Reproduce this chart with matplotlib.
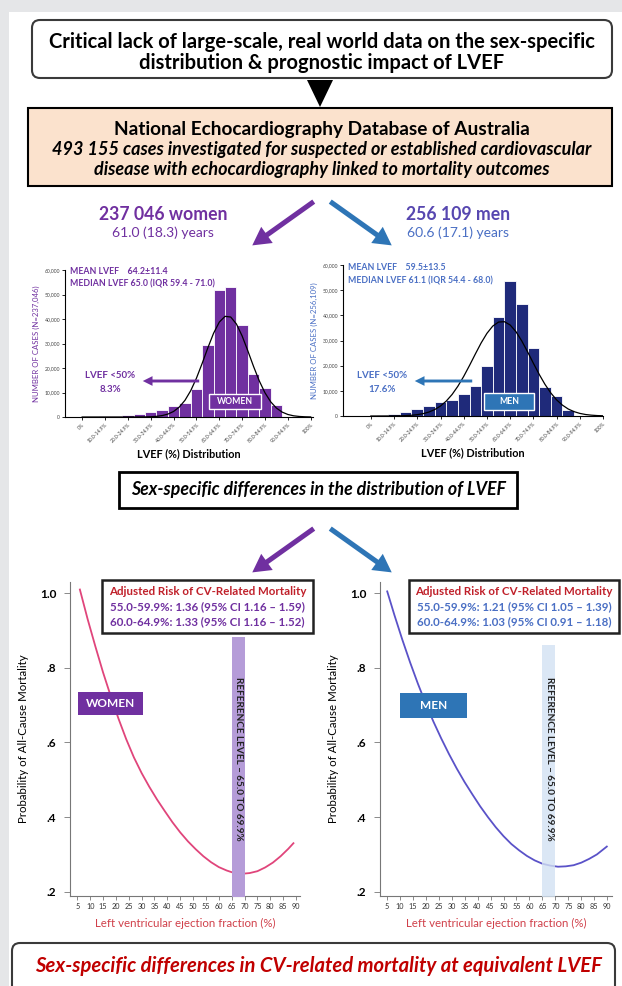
import matplotlib
matplotlib.use("Agg")
import matplotlib.pyplot as plt
from matplotlib.patches import Rectangle, FancyBboxPatch, Polygon, FancyArrowPatch

W, H = 622, 986
plt.rcParams['font.family'] = ['Lato', 'DejaVu Sans']

# ---- data -------------------------------------------------------------
lvef_cats = ["0%", "5.0-9.9%", "10.0-14.9%", "15.0-19.9%", "20.0-24.9%", "25.0-29.9%",
             "30.0-34.9%", "35.0-39.9%", "40.0-44.9%", "45.0-49.9%", "50.0-54.9%",
             "55.0-59.9%", "60.0-64.9%", "65.0-69.9%", "70.0-74.9%", "75.0-79.9%",
             "80.0-84.9%", "85.0-89.9%", "90.0-94.9%", "95.0-99.9%", "100%"]
women_counts = [0, 100, 300, 500, 800, 1400, 2000, 2700, 4500, 5900, 11600, 29500,
                52000, 53200, 37700, 17500, 12000, 4800, 0, 0, 0]
men_counts = [0, 200, 700, 1600, 2900, 4000, 5600, 6200, 8900, 11800, 19800, 39400,
              53700, 44400, 27200, 11600, 7800, 2500, 0, 0, 0]

# normal-fit line (category position, thousands of cases)
fit_pos = [0, 0.5, 1, 1.5, 2, 2.5, 3, 3.5, 4, 4.5, 5, 5.5, 6, 6.5, 7, 7.5, 8, 8.5, 9, 9.5,
           10, 10.5, 11, 11.5, 12, 12.5, 13, 13.5, 14, 14.5, 15, 15.5, 16, 16.5, 17, 17.5,
           18, 18.5, 19, 19.5, 20]
women_fit = [0, 0, 0, 0, 0, 0, 0, 0, 0.0, 0.01, 0.02, 0.05, 0.11, 0.26, 0.58, 1.18, 2.26,
             4.06, 6.83, 10.74, 15.83, 21.86, 28.24, 34.18, 38.73, 41.08, 40.81, 37.96,
             33.07, 26.97, 20.61, 14.73, 9.86, 6.19, 3.64, 2.0, 1.03, 0.49, 0.22, 0.09, 0.03]
men_fit = [0, 0, 0, 0.01, 0.04, 0.08, 0.15, 0.29, 0.53, 0.93, 1.57, 2.55, 3.97, 5.95, 8.56,
           11.85, 15.74, 20.08, 24.62, 29.02, 32.84, 35.72, 37.33, 37.48, 36.16, 33.51,
           29.84, 25.53, 20.98, 16.57, 12.58, 9.17, 6.42, 4.33, 2.79, 1.74, 1.04, 0.59,
           0.33, 0.17, 0.09]

# probability of all-cause mortality vs LVEF
women_ef = [6, 9, 12, 15, 18, 21, 24, 27, 30, 33, 36, 39, 42, 45, 48, 51, 54, 57, 60, 63,
            66, 69, 72, 75, 78, 81, 84, 87, 89]
women_prob = [1.010, 0.931, 0.858, 0.788, 0.724, 0.664, 0.609, 0.560, 0.518, 0.481, 0.447,
              0.416, 0.386, 0.359, 0.335, 0.314, 0.295, 0.279, 0.266, 0.257, 0.250, 0.248,
              0.250, 0.255, 0.265, 0.278, 0.295, 0.315, 0.330]
men_ef = [5.2, 8, 11, 14, 17, 20, 23, 26, 29, 32, 35, 38, 41, 44, 47, 50, 53, 56, 59, 62,
          65, 68, 71, 74, 77, 80, 83, 86, 89.8]
men_prob = [1.005, 0.941, 0.876, 0.815, 0.758, 0.705, 0.656, 0.611, 0.569, 0.530, 0.494,
            0.461, 0.429, 0.400, 0.373, 0.349, 0.328, 0.311, 0.296, 0.284, 0.275, 0.270,
            0.267, 0.268, 0.271, 0.278, 0.288, 0.300, 0.321]

ef_ticks = [5, 10, 15, 20, 25, 30, 35, 40, 45, 50, 55, 60, 65, 70, 75, 80, 85, 90]
prob_ticks = [0.2, 0.4, 0.6, 0.8, 1.0]
prob_labels = [".2", ".4", ".6", ".8", "1.0"]

PURPLE = '#7030a0'
NAVY = '#1f2a7a'
BLUE = '#2e75b6'
MBLUE = '#4a6fc4'
RED = '#c00000'


def fr(x0, y0, x1, y1):
    return [x0 / W, 1 - y1 / H, (x1 - x0) / W, (y1 - y0) / H]


fig = plt.figure(figsize=(W / 100, H / 100), dpi=100)
fig.patch.set_facecolor('#e5e6e8')

bg = fig.add_axes([0, 0, 1, 1])
bg.set_xlim(0, W)
bg.set_ylim(H, 0)
bg.axis('off')
bg.add_patch(Rectangle((9, 12), W, H, fc='white', ec='none'))

# header boxes
bg.add_patch(FancyBboxPatch((32, 20), 580, 58, boxstyle='round,pad=0,rounding_size=8',
                            fc='white', ec='#3a3a3a', lw=1.5))
bg.text(322, 42, "Critical lack of large-scale, real world data on the sex-specific",
        ha='center', va='center', fontsize=14.5, fontweight='bold')
bg.text(322, 63, "distribution & prognostic impact of LVEF",
        ha='center', va='center', fontsize=14.5, fontweight='bold')
bg.add_patch(Polygon([(307, 80), (333, 80), (320, 107)], closed=True, fc='black'))
bg.add_patch(Rectangle((28, 108), 584, 78, fc='#fbe2cd', ec='black', lw=1.5))
bg.text(322, 129, "National Echocardiography Database of Australia",
        ha='center', va='center', fontsize=13.7, fontweight='bold')
bg.text(322, 150, "493 155 cases investigated for suspected or established cardiovascular",
        ha='center', va='center', fontsize=13, fontweight='bold', style='italic')
bg.text(322, 170, "disease with echocardiography linked to mortality outcomes",
        ha='center', va='center', fontsize=13, fontweight='bold', style='italic')


def big_arrow(ax, p0, p1, color):
    ax.add_patch(FancyArrowPatch(p0, p1, arrowstyle='simple,head_width=1.1,head_length=1.0,tail_width=0.28',
                                 mutation_scale=13, fc=color, ec=color, lw=0))


big_arrow(bg, (316, 200), (250, 247), PURPLE)
big_arrow(bg, (328, 200), (394, 247), BLUE)

bg.text(163, 214, "237 046 women", ha='center', va='center', fontsize=12.7, fontweight='bold', color=PURPLE)
bg.text(163, 233, "61.0 (18.3) years", ha='center', va='center', fontsize=10, color=PURPLE)
bg.text(458, 214, "256 109 men", ha='center', va='center', fontsize=12.7, fontweight='bold', color='#5747b0')
bg.text(458, 233, "60.6 (17.1) years", ha='center', va='center', fontsize=10, color=MBLUE)

# middle box and arrows
bg.add_patch(Rectangle((119, 472), 398, 36, fc='white', ec='black', lw=2))
bg.text(318, 490, "Sex-specific differences in the distribution of LVEF",
        ha='center', va='center', fontsize=12.8, fontweight='bold', style='italic')
big_arrow(bg, (316, 527), (250, 574), PURPLE)
big_arrow(bg, (328, 527), (394, 574), BLUE)

# bottom box
bg.add_patch(FancyBboxPatch((12, 943), 603, 60, boxstyle='round,pad=0,rounding_size=8',
                            fc='white', ec='#3a3a3a', lw=1.5))
bg.text(318, 966, "Sex-specific differences in CV-related mortality at equivalent LVEF",
        ha='center', va='center', fontsize=14.6, fontweight='bold', style='italic', color=RED)


# ---- histograms -------------------------------------------------------
def histogram(rect, counts, fit, bar_color, txt_color, ylab, xlim):
    ax = fig.add_axes(fr(*rect))
    ax.set_facecolor('none')
    ax.bar(range(len(lvef_cats)), counts, width=1.0, color=bar_color, ec='white', lw=0.6)
    ax.plot(fit_pos, [v * 1000 for v in fit], color='black', lw=0.9)
    ax.set_xlim(*xlim)
    ax.set_ylim(0, 60000)
    for s in ['top', 'right']:
        ax.spines[s].set_visible(False)
    for s in ['left', 'bottom']:
        ax.spines[s].set_linewidth(0.8)
    ax.set_yticks([0, 10000, 20000, 30000, 40000, 50000, 60000])
    ax.set_yticklabels(["0", "10,000", "20,000", "30,000", "40,000", "50,000", "60,000"])
    ax.set_xticks(range(0, 21, 2))
    ax.set_xticklabels(lvef_cats[::2], rotation=45, ha='right', rotation_mode='anchor')
    ax.tick_params(labelsize=3.6, length=2, width=0.6, pad=1.5, labelcolor='#444')
    ax.set_ylabel(ylab, fontsize=5.6, color=txt_color, labelpad=3)
    ax.set_xlabel("LVEF (%) Distribution", fontsize=7.8, fontweight='bold', labelpad=3)
    return ax


histogram((65, 270, 313, 417), women_counts, women_fit, PURPLE, PURPLE,
          "NUMBER OF CASES (N=237,046)", (-1.5, 20.2))
histogram((343, 265, 603, 416), men_counts, men_fit, NAVY, MBLUE,
          "NUMBER OF CASES (N=256,109)", (-2.4, 20.0))


# ---- mortality curves -------------------------------------------------
def mortality(rect, xlim, ef, prob, color, band_color, band_top, band_alpha):
    ax = fig.add_axes(fr(*rect))
    ax.set_facecolor('none')
    ax.plot(ef, prob, color=color, lw=1.3, zorder=2)
    ax.fill_between([65, 70], 0.15, band_top, color=band_color, alpha=band_alpha, lw=0, zorder=3)
    ax.text(67.6, 0.556, "REFERENCE LEVEL \u2013 65.0 TO 69.9%", rotation=270, ha='center',
            va='center', fontsize=7.2, fontweight='bold', color='#222', zorder=4)
    ax.set_xlim(*xlim)
    ax.set_ylim(0.1885, 1.031)
    for s in ['top', 'right']:
        ax.spines[s].set_visible(False)
    for s in ['left', 'bottom']:
        ax.spines[s].set_color('#777')
        ax.spines[s].set_linewidth(0.8)
    ax.set_xticks(ef_ticks)
    ax.set_xticklabels([str(t) for t in ef_ticks])
    ax.set_yticks(prob_ticks)
    ax.set_yticklabels(prob_labels)
    ax.tick_params(axis='x', labelsize=5.2, length=3, width=0.6, color='#777', labelcolor='#333', pad=2)
    ax.tick_params(axis='y', labelsize=8.5, length=4, width=0.6, color='#777', pad=6)
    for lab in ax.get_yticklabels():
        lab.set_fontweight('bold')
    ax.set_xlabel("Left ventricular ejection fraction (%)", fontsize=8.3, color='#d0404a', labelpad=6)
    ax.set_ylabel("Probability of All-Cause Mortality", fontsize=8.3, labelpad=8)
    return ax


mortality((70, 581.7, 300, 896), (2.16, 91.55), women_ef, women_prob, '#e0457b', '#b59cd8', 0.884, 1.0)
mortality((380, 581.7, 612, 896), (2.42, 91.8), men_ef, men_prob, '#5a52c8', '#d3e2f3', 0.86, 0.8)

# ---- overlay labels ---------------------------------------------------
top = fig.add_axes([0, 0, 1, 1])
top.set_xlim(0, W)
top.set_ylim(H, 0)
top.axis('off')
top.set_facecolor('none')

# histogram annotations
top.text(70, 271, "MEAN LVEF    64.2\u00b111.4", fontsize=6.3, fontweight='bold', color=PURPLE, va='center')
top.text(70, 284, "MEDIAN LVEF 65.0 (IQR 59.4 - 71.0)", fontsize=6.3, fontweight='bold', color=PURPLE, va='center')
top.text(348, 268, "MEAN LVEF    59.5\u00b113.5", fontsize=6.3, fontweight='bold', color=MBLUE, va='center')
top.text(348, 281, "MEDIAN LVEF 61.1 (IQR 54.4 - 68.0)", fontsize=6.3, fontweight='bold', color=MBLUE, va='center')

top.text(110, 375, "LVEF <50%", fontsize=7, fontweight='bold', color=PURPLE, ha='center', va='center')
top.text(110, 390, "8.3%", fontsize=7, fontweight='bold', color=PURPLE, ha='center', va='center')
top.text(382, 375, "LVEF <50%", fontsize=7, fontweight='bold', color=MBLUE, ha='center', va='center')
top.text(382, 389, "17.6%", fontsize=7, fontweight='bold', color=MBLUE, ha='center', va='center')


def small_arrow(p0, p1, color):
    top.add_patch(FancyArrowPatch(p0, p1, arrowstyle='simple,head_width=1.0,head_length=1.0,tail_width=0.3',
                                  mutation_scale=7, fc=color, ec=color, lw=0))


small_arrow((202, 381), (140, 381), PURPLE)
small_arrow((475, 381), (412, 381), BLUE)

top.add_patch(Rectangle((209, 394), 52, 15, fc=PURPLE, ec='white', lw=1))
top.text(235, 401.5, "WOMEN", fontsize=6.2, fontweight='bold', color='white', ha='center', va='center')
top.add_patch(Rectangle((484, 393), 50, 17, fc=BLUE, ec='white', lw=1))
top.text(509, 401.5, "MEN", fontsize=6.2, fontweight='bold', color='white', ha='center', va='center')

# risk boxes
top.add_patch(Rectangle((102, 580), 211, 53, fc='white', ec='#222', lw=1.8))
top.text(207.5, 591.5, "Adjusted Risk of CV-Related Mortality", fontsize=8.3, fontweight='bold',
         color='#c0202a', ha='center', va='center')
top.text(207.5, 606.5, "55.0-59.9%: 1.36 (95% CI 1.16 \u2013 1.59)", fontsize=8.3, fontweight='bold',
         color=PURPLE, ha='center', va='center')
top.text(207.5, 621.5, "60.0-64.9%: 1.33 (95% CI 1.16 \u2013 1.52)", fontsize=8.3, fontweight='bold',
         color=PURPLE, ha='center', va='center')
top.add_patch(Rectangle((409, 580), 210, 53, fc='white', ec='#222', lw=1.8))
top.text(514, 591.5, "Adjusted Risk of CV-Related Mortality", fontsize=8.3, fontweight='bold',
         color='#c0202a', ha='center', va='center')
top.text(514, 606.5, "55.0-59.9%: 1.21 (95% CI 1.05 \u2013 1.39)", fontsize=8.3, fontweight='bold',
         color=MBLUE, ha='center', va='center')
top.text(514, 621.5, "60.0-64.9%: 1.03 (95% CI 0.91 \u2013 1.18)", fontsize=8.3, fontweight='bold',
         color=MBLUE, ha='center', va='center')

top.add_patch(Rectangle((78, 692), 65, 23, fc=PURPLE, ec='none'))
top.text(110.5, 703.5, "WOMEN", fontsize=8.5, fontweight='bold', color='white', ha='center', va='center')
top.add_patch(Rectangle((400, 693), 67, 25, fc=BLUE, ec='none'))
top.text(433.5, 705.5, "MEN", fontsize=8.5, fontweight='bold', color='white', ha='center', va='center')

fig.savefig("out.png", dpi=100, facecolor=fig.get_facecolor())
